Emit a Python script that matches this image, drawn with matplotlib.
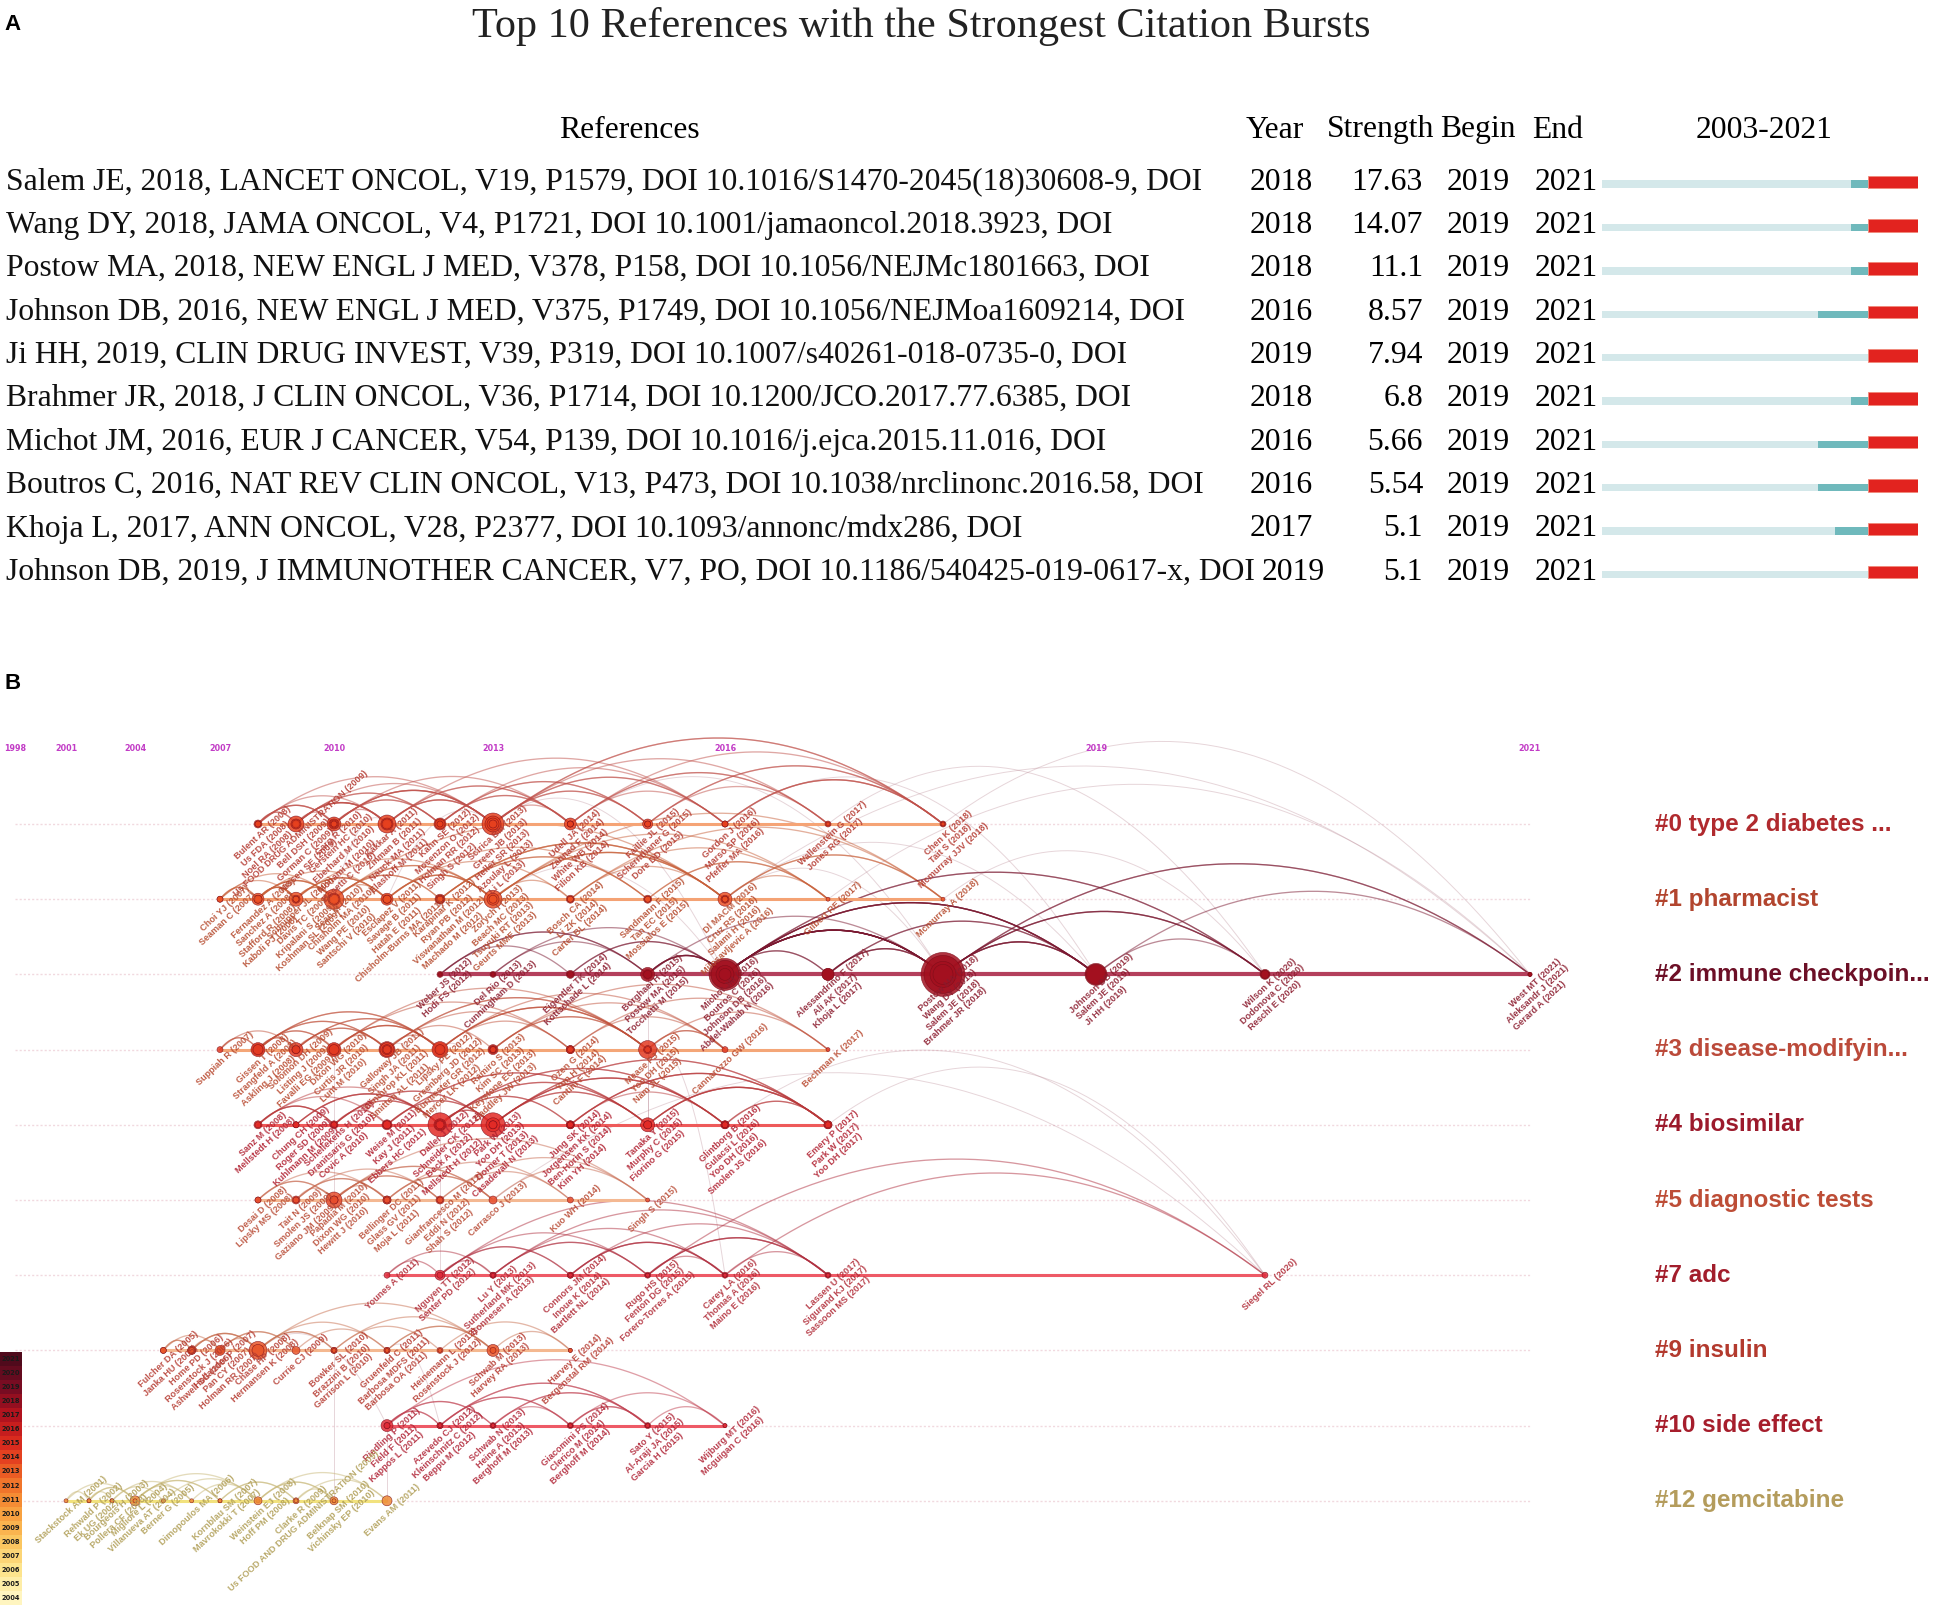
import numpy as np
import matplotlib.pyplot as plt
from matplotlib.colors import LinearSegmentedColormap, Normalize
from matplotlib.transforms import blended_transform_factory

W, H = 1944, 1605

# ================= panel A : citation bursts =================
ref_text = [
    "Salem JE, 2018, LANCET ONCOL, V19, P1579, DOI 10.1016/S1470-2045(18)30608-9, DOI",
    "Wang DY, 2018, JAMA ONCOL, V4, P1721, DOI 10.1001/jamaoncol.2018.3923, DOI",
    "Postow MA, 2018, NEW ENGL J MED, V378, P158, DOI 10.1056/NEJMc1801663, DOI",
    "Johnson DB, 2016, NEW ENGL J MED, V375, P1749, DOI 10.1056/NEJMoa1609214, DOI",
    "Ji HH, 2019, CLIN DRUG INVEST, V39, P319, DOI 10.1007/s40261-018-0735-0, DOI",
    "Brahmer JR, 2018, J CLIN ONCOL, V36, P1714, DOI 10.1200/JCO.2017.77.6385, DOI",
    "Michot JM, 2016, EUR J CANCER, V54, P139, DOI 10.1016/j.ejca.2015.11.016, DOI",
    "Boutros C, 2016, NAT REV CLIN ONCOL, V13, P473, DOI 10.1038/nrclinonc.2016.58, DOI",
    "Khoja L, 2017, ANN ONCOL, V28, P2377, DOI 10.1093/annonc/mdx286, DOI",
    "Johnson DB, 2019, J IMMUNOTHER CANCER, V7, PO, DOI 10.1186/540425-019-0617-x, DOI",
]
ref_year = [2018, 2018, 2018, 2016, 2019, 2018, 2016, 2016, 2017, 2019]
ref_strength = [17.63, 14.07, 11.1, 8.57, 7.94, 6.8, 5.66, 5.54, 5.1, 5.1]
burst_begin = [2019, 2019, 2019, 2019, 2019, 2019, 2019, 2019, 2019, 2019]
burst_end = [2021, 2021, 2021, 2021, 2021, 2021, 2021, 2021, 2021, 2021]
period = (2003, 2021)

# ================= panel B : timeline view =================
year_ticks = [1998, 2001, 2004, 2007, 2010, 2013, 2016, 2019, 2021]
legend_years = list(range(2004, 2022))

lane_name = ["#0 type 2 diabetes ...", "#1 pharmacist", "#2 immune checkpoin...",
             "#3 disease-modifyin...", "#4 biosimilar", "#5 diagnostic tests",
             "#7 adc", "#9 insulin", "#10 side effect", "#12 gemcitabine"]

c0_year = [2008, 2008, 2008, 2009, 2009, 2009, 2010, 2010, 2010, 2011, 2011, 2012, 2012,
           2013, 2013, 2013, 2014, 2014, 2015, 2015, 2016, 2017, 2017, 2018, 2018, 2018,
           2011, 2012, 2014, 2016, 2009, 2010, 2011, 2012, 2013, 2013, 2014, 2015, 2016, 2010]
c0_size = [4, 3, 3, 8, 5, 3, 7, 5, 3, 9, 6, 6, 4, 11, 8, 4, 6, 3, 5, 3, 3, 3, 2, 3, 2, 2,
           4, 5, 3, 3, 4, 4, 5, 3, 6, 4, 3, 3, 3, 3]
c0_author = ["Bulent AR", "Us FDA", "Noel RA", "Us FOOD DRUG ADMINISTRATION", "Bell DSH",
             "Gorman C", "Garg R", "Gerstein HC", "Eberhard M", "Kakkar A", "Zinman B",
             "Kahn SE", "Mosenzon O", "Scirica BM", "Green JB", "Heller SR", "Udell JA",
             "Zannad F", "Faillie JL", "Schernthaner G", "Gordon J", "Wallenstein G",
             "Jones RG", "Chen K", "Tait S", "Mcmurray JJV",
             "Nauck MA", "Holman RR", "White WB", "Marso SP",
             "Nissen SE", "Monami M", "Elashoff M", "Singh S", "Azoulay L", "Li L",
             "Filion KB", "Dore DD", "Pfeffer MA", "Bosetti C"]
c0_links = [(0, 3), (0, 6), (1, 4), (2, 6), (3, 6), (3, 9), (3, 13), (4, 9), (4, 11), (5, 10),
            (6, 9), (6, 13), (7, 13), (8, 11), (9, 13), (9, 16), (10, 14), (11, 16), (12, 18),
            (13, 16), (13, 18), (13, 23), (14, 19), (14, 20), (16, 21), (16, 23), (18, 23),
            (19, 22), (20, 24), (9, 20), (6, 16), (3, 11), (11, 20), (15, 21),
            (26, 13), (27, 16), (28, 20), (29, 23), (3, 26), (6, 27), (0, 9), (1, 13),
            (30, 9), (31, 13), (32, 16), (33, 18), (34, 20), (35, 23), (36, 21), (37, 24),
            (38, 25), (39, 13), (3, 30), (0, 31)]

c1_year = [2007, 2007, 2008, 2008, 2008, 2009, 2009, 2010, 2010, 2010, 2011, 2011, 2012,
           2012, 2013, 2013, 2014, 2014, 2015, 2016, 2016, 2016, 2017, 2018,
           2009, 2012, 2015, 2011, 2008, 2009, 2010, 2011, 2012, 2013, 2014, 2015, 2016, 2013]
c1_size = [3, 3, 6, 4, 3, 7, 4, 10, 6, 4, 5, 6, 5, 4, 9, 5, 4, 3, 4, 7, 4, 3, 2, 2,
           3, 4, 3, 4, 4, 3, 5, 4, 3, 6, 3, 3, 3, 4]
c1_author = ["Choi YJ", "Seaman C", "Fernandez A", "Sanchez A", "Stafford R", "Schnipper JL",
             "Davis TC", "Sean M", "Chisholm MA", "Wang PE", "Esclapez V", "Savage B",
             "Karapinar K", "Ryan PB", "Zorych I", "Beach MC", "Bosch CA", "Li ZK",
             "Sandmann F", "Dl MACM", "Cruz RS", "Salami H", "Gilbert RE", "Mcmurray A",
             "Kripalani S", "Viswanathan M", "Tan EC", "Hatah E",
             "Kaboli PJ", "Koshman SL", "Santschi V", "Chisholm-Burns MA", "Machado M",
             "Tsuyuki RT", "Carter BL", "Mossialos E", "Milosavljevic A", "Geurts MME"]
c1_links = [(0, 2), (0, 5), (1, 3), (2, 5), (2, 7), (3, 7), (4, 8), (5, 7), (5, 10), (5, 14),
            (6, 11), (7, 11), (7, 14), (8, 12), (9, 13), (10, 14), (11, 14), (11, 16), (12, 18),
            (13, 19), (14, 16), (14, 19), (15, 19), (16, 21), (17, 22), (19, 22), (19, 23),
            (7, 19), (2, 11), (14, 23),
            (24, 7), (25, 19), (26, 22), (27, 14), (2, 24), (12, 26), (0, 7),
            (28, 5), (29, 10), (30, 14), (31, 18), (32, 19), (33, 22), (34, 23), (35, 22),
            (36, 23), (37, 19), (2, 29), (7, 30)]

c2_year = [2012, 2012, 2013, 2013, 2014, 2014, 2015, 2015, 2015, 2016, 2016, 2016, 2016,
           2017, 2017, 2017, 2018, 2018, 2018, 2018, 2019, 2019, 2019, 2020, 2020, 2020,
           2021, 2021, 2021]
c2_size = [3, 2, 3, 2, 4, 3, 5, 7, 4, 16, 14, 9, 6, 5, 6, 6, 22, 19, 13, 10, 11, 9, 10,
           5, 4, 4, 2, 2, 2]
c2_author = ["Weber JS", "Hodi FS", "Del Rio", "Cunningham D", "Eigentler TK", "Kottschade L",
             "Borghaei H", "Postow MA", "Tocchetti M", "Michot JM", "Boutros C", "Johnson DB",
             "Abdel-Wahab N", "Alessandrino F", "Ali AK", "Khoja L", "Postow MA", "Wang DY",
             "Salem JE", "Brahmer JR", "Johnson DB", "Salem JE", "Ji HH", "Wilson K",
             "Dodonova C", "Reschl E", "West MT", "Aleksandr J", "Gerard A"]
c2_links = [(0, 4), (0, 7), (1, 6), (2, 7), (3, 9), (4, 9), (5, 10), (6, 9), (6, 11), (7, 9),
            (7, 10), (7, 16), (8, 12), (9, 14), (9, 16), (9, 17), (9, 20), (10, 15), (10, 16),
            (10, 17), (10, 22), (11, 16), (11, 18), (11, 20), (12, 17), (12, 19), (13, 17),
            (14, 20), (15, 21), (16, 20), (16, 22), (16, 23), (17, 21), (17, 24), (18, 22),
            (19, 25), (20, 26), (17, 27), (9, 23), (10, 24), (16, 28), (21, 25), (11, 22),
            (9, 18), (10, 19), (12, 21), (14, 17), (15, 16)]

c3_year = [2007, 2008, 2008, 2009, 2010, 2010, 2011, 2011, 2012, 2012, 2013, 2013, 2014,
           2014, 2015, 2015, 2016, 2017, 2009, 2011, 2013, 2012,
           2008, 2009, 2010, 2011, 2012, 2013, 2014, 2015]
c3_size = [3, 6, 7, 7, 6, 7, 8, 7, 7, 8, 5, 4, 4, 4, 9, 4, 3, 2, 4, 5, 3, 4,
           5, 4, 5, 4, 5, 3, 3, 3]
c3_author = ["Suppiah R", "Gissen T", "Strangfeld A", "Solomon DH", "Dixon WG", "Curtis JR",
             "Galloway JB", "Singh JA", "Lipsky PE", "Greenberg JD", "Ramiro S", "Kim SC",
             "Ozen G", "Yun H", "Mease PJ", "Yoo DH", "Cannarozzo GW", "Bechman K",
             "Listing J", "Winthrop KL", "Keystone EC", "Burmester GR",
             "Askling J", "Favalli EG", "Lunt M", "Smitten AL", "Mercer LK", "Baddley JW",
             "Cantini F", "Nam JL"]
c3_links = [(0, 1), (0, 3), (1, 3), (1, 5), (2, 4), (2, 6), (3, 6), (3, 8), (4, 7), (4, 9),
            (5, 9), (6, 9), (6, 10), (7, 12), (8, 14), (9, 14), (9, 13), (10, 14), (11, 15),
            (12, 16), (14, 16), (14, 17), (5, 14), (2, 9), (1, 8),
            (18, 6), (19, 14), (20, 16), (21, 14), (1, 18), (4, 21),
            (22, 6), (23, 9), (24, 12), (25, 14), (26, 16), (27, 17), (28, 17), (29, 16),
            (0, 22), (3, 24)]

c4_year = [2008, 2008, 2009, 2009, 2010, 2011, 2011, 2012, 2012, 2013, 2013, 2014, 2014,
           2015, 2015, 2016, 2016, 2016, 2017, 2017, 2017, 2010, 2012, 2014, 2013,
           2009, 2010, 2011, 2012, 2013, 2014, 2015, 2016]
c4_size = [4, 3, 3, 3, 4, 5, 4, 12, 6, 12, 7, 4, 4, 7, 4, 4, 4, 3, 4, 4, 3, 3, 5, 3, 4,
           3, 3, 4, 4, 4, 3, 4, 3]
c4_author = ["Sanz M", "Mellstedt H", "Chung CH", "Roger SD", "Schellekens H", "Weise M",
             "Kay J", "Daller J", "Schneider CK", "Park W", "Yoo DH", "Jung SK",
             "Jorgensen KK", "Tanaka Y", "Murphy C", "Glintborg B", "Gulacsi L", "Yoo DH",
             "Emery P", "Park W", "Yoo DH", "Dranitsaris G", "Beck A", "Ben-Horin S",
             "Dorner T", "Kuhlmann M", "Covic A", "Ebbers HC", "Mellstedt H", "Casadevall N",
             "Kim YH", "Fiorino G", "Smolen JS"]
c4_links = [(0, 4), (0, 7), (1, 5), (2, 7), (3, 8), (4, 7), (4, 9), (5, 9), (6, 10), (7, 9),
            (7, 13), (7, 11), (8, 12), (9, 13), (9, 15), (10, 14), (10, 16), (11, 17), (12, 18),
            (13, 18), (13, 19), (14, 20), (15, 19), (9, 18), (7, 15), (5, 13),
            (21, 7), (22, 13), (23, 19), (24, 15), (0, 21), (8, 24),
            (25, 7), (26, 9), (27, 13), (28, 15), (29, 18), (30, 19), (31, 20), (32, 19),
            (1, 26), (4, 27)]

c5_year = [2008, 2009, 2009, 2010, 2010, 2011, 2011, 2012, 2012, 2013, 2014, 2015,
           2008, 2009, 2010, 2011, 2012]
c5_size = [3, 3, 4, 8, 4, 4, 4, 3, 4, 4, 3, 2, 3, 3, 4, 3, 3]
c5_author = ["Desai D", "Tait N", "Smolen JS", "Papadia M", "Dixon WG", "Bellinger DC",
             "Glass GV", "Gianfrancesco M", "Eddi N", "Carrasco J", "Kuo WH", "Singh S",
             "Lipsky MS", "Gaziano JM", "Hewitt J", "Moja L", "Shah S"]
c5_links = [(0, 3), (1, 3), (2, 5), (3, 6), (3, 8), (4, 7), (5, 9), (6, 9), (8, 10), (9, 11),
            (3, 11), (2, 8), (0, 5), (3, 9), (12, 3), (13, 6), (14, 9), (15, 10), (16, 11)]

c7_year = [2011, 2012, 2012, 2013, 2013, 2013, 2014, 2014, 2014, 2015, 2015, 2015, 2016,
           2016, 2016, 2017, 2017, 2017, 2020]
c7_size = [3, 5, 3, 3, 3, 2, 3, 3, 2, 3, 2, 2, 3, 2, 2, 3, 2, 2, 3]
c7_author = ["Younes A", "Nguyen TT", "Senter PD", "Lu Y", "Sutherland MK", "Bonnesen A",
             "Connors JM", "Inoue K", "Bartlett NL", "Rugo HS", "Fenton DG", "Forero-Torres A",
             "Carey LA", "Thomas A", "Maino E", "Lassen U", "Sigurand KJ", "Sassoon MS",
             "Siegel RL"]
c7_links = [(0, 1), (0, 3), (1, 4), (1, 6), (1, 9), (2, 7), (3, 9), (4, 12), (5, 10), (6, 12),
            (6, 15), (7, 13), (8, 14), (9, 15), (9, 12), (10, 16), (11, 17), (12, 15), (1, 15),
            (4, 16), (9, 18), (12, 18)]

c9_year = [2005, 2005, 2006, 2006, 2006, 2007, 2007, 2007, 2008, 2008, 2009, 2010, 2010,
           2010, 2011, 2011, 2011, 2012, 2012, 2013, 2013, 2014, 2014]
c9_size = [3, 3, 4, 4, 3, 4, 3, 5, 9, 6, 4, 3, 3, 2, 3, 3, 2, 3, 2, 6, 3, 2, 2]
c9_author = ["Fulcher DA", "Janka HU", "Home PD", "Rosenstock J", "Ashwell SG", "Hollander P",
             "Pan CY", "Holman RR", "Chase HP", "Hermansen K", "Currie CJ", "Bowker SL",
             "Brazzini B", "Garrison L", "Gruenfeld C", "Barbosa MDFS", "Barbosa OA",
             "Heinemann L", "Rosenstock J", "Schwab M", "Harvey RA", "Harvey E",
             "Bergenstal RM"]
c9_links = [(0, 2), (0, 5), (1, 3), (2, 7), (2, 8), (3, 8), (4, 9), (5, 8), (5, 10), (7, 10),
            (8, 11), (8, 12), (9, 14), (10, 15), (11, 17), (12, 19), (14, 19), (15, 20),
            (17, 21), (19, 22), (8, 19)]

c10_year = [2011, 2011, 2011, 2012, 2012, 2012, 2013, 2013, 2013, 2014, 2014, 2014, 2015,
            2015, 2015, 2016, 2016]
c10_size = [6, 3, 3, 3, 3, 2, 3, 2, 2, 3, 2, 2, 3, 2, 2, 2, 2]
c10_author = ["Riedling P", "Field F", "Kappos L", "Azevedo CJ", "Kleinschnitz C", "Beppu M",
              "Schwab N", "Heine A", "Berghoff M", "Giacomini PS", "Clerico M", "Berghoff M",
              "Sato Y", "Al-Araji JA", "Garcia H", "Wijburg MT", "Mcguigan C"]
c10_links = [(0, 3), (0, 6), (1, 4), (2, 6), (3, 9), (4, 9), (5, 12), (6, 9), (6, 12), (7, 13),
             (9, 12), (9, 15), (10, 14), (12, 15), (0, 15), (3, 12)]

c12_year = [2001, 2002, 2002, 2003, 2003, 2004, 2004, 2005, 2006, 2007, 2007, 2008, 2008,
            2009, 2009, 2010, 2010, 2011]
c12_size = [2, 2, 2, 2, 2, 5, 2, 2, 2, 2, 2, 2, 4, 3, 2, 4, 2, 5]
c12_author = ["Stackstock AM", "Rehwald P", "Ek UG", "Bourgeois H", "Pollera CF", "Migliore L",
              "Villanueva AT", "Berner G", "Dimopoulos MA", "Kornblau SM", "Mavrokokki T",
              "Weinstein EJ", "Hoff PM", "Clarke R", "Us FOOD AND DRUG ADMINISTRATION",
              "Belknap SM", "Vichinsky EP", "Evans AM"]
c12_links = [(0, 2), (0, 5), (1, 3), (1, 5), (2, 6), (3, 7), (4, 8), (5, 8), (5, 9), (6, 10),
             (7, 11), (8, 12), (9, 13), (10, 14), (11, 15), (12, 15), (12, 17), (13, 17),
             (5, 12), (14, 16)]

# links between clusters: ((lane, node), (lane, node))
cross_links = [((1, 7), (0, 9)), ((1, 11), (0, 13)), ((0, 13), (2, 9)), ((0, 16), (2, 16)),
               ((1, 14), (2, 10)), ((1, 19), (2, 17)), ((1, 21), (2, 26)), ((1, 22), (2, 27)),
               ((0, 21), (2, 23)), ((0, 23), (2, 28)), ((1, 23), (2, 24)), ((3, 6), (4, 7)),
               ((3, 9), (4, 9)), ((4, 13), (3, 14)), ((5, 3), (3, 5)), ((4, 18), (6, 18)),
               ((5, 9), (6, 18)), ((4, 15), (6, 18)), ((3, 14), (6, 12)), ((7, 8), (8, 0)),
               ((7, 12), (9, 15)), ((8, 0), (9, 17)), ((7, 15), (8, 3)), ((2, 7), (4, 13)),
               ((6, 1), (3, 9)), ((0, 20), (2, 20)), ((1, 19), (2, 22))]

lanes = [
    (c0_year, c0_size, c0_author, c0_links),
    (c1_year, c1_size, c1_author, c1_links),
    (c2_year, c2_size, c2_author, c2_links),
    (c3_year, c3_size, c3_author, c3_links),
    (c4_year, c4_size, c4_author, c4_links),
    (c5_year, c5_size, c5_author, c5_links),
    (c7_year, c7_size, c7_author, c7_links),
    (c9_year, c9_size, c9_author, c9_links),
    (c10_year, c10_size, c10_author, c10_links),
    (c12_year, c12_size, c12_author, c12_links),
]

# styles per lane
name_color = ['#b02a2e', '#b2452e', '#6c0f26', '#bb4a3a', '#9c1a2c', '#bd4d36',
              '#a21e2c', '#b33a2e', '#a61e2c', '#b49c5c']
line_color = ['#f5a476', '#f4a274', '#b4405c', '#f4a678', '#ee5a5a', '#f4b892',
              '#ee5a66', '#f4b890', '#ee5a66', '#f2e27e']
node_color = ['#e6401e', '#eb5024', '#a3101f', '#e23a22', '#e22a26', '#e64c2c',
              '#df2a3a', '#e8562a', '#df2a36', '#ee8a36']
label_color = ['#b3372e', '#b5492c', '#8a1a2c', '#b8482e', '#b02030', '#b84a34',
               '#b02a36', '#b53a30', '#b02436', '#b09e56']
arc_color = ['#c0504a', '#c8603a', '#7a1830', '#c0503a', '#b8383a', '#c86a50',
             '#b03040', '#c87050', '#c04050', '#c8b878']

plt.rcParams['font.family'] = ['Liberation Serif', 'DejaVu Serif']
fig = plt.figure(figsize=(W / 100, H / 100), dpi=100)


def fx(px):
    return px / W


def fy(py):
    return 1 - py / H


# ---------------- panel A ----------------
fs_a = 22.8
fig.text(fx(4), fy(25), "A", fontsize=16, fontweight='bold', family='Liberation Sans', va='center')
fig.text(fx(921), fy(27), "Top 10 References with the Strongest Citation Bursts",
         fontsize=30.4, ha='center', va='center', color='#222222')

hdr_y = fy(130)
fig.text(fx(629), hdr_y, "References", fontsize=fs_a, ha='center', va='center')
fig.text(fx(1275), hdr_y, "Year", fontsize=fs_a, ha='center', va='center')
fig.text(fx(1381), hdr_y, "Strength", fontsize=fs_a, ha='center', va='center')
fig.text(fx(1478), hdr_y, "Begin", fontsize=fs_a, ha='center', va='center')
fig.text(fx(1558), hdr_y, "End", fontsize=fs_a, ha='center', va='center')
fig.text(fx(1764), hdr_y, f"{period[0]}-{period[1]}", fontsize=fs_a, ha='center', va='center')

renderer = fig.canvas.get_renderer()
row_y0, row_dy = 182, 43.35
for i in range(len(ref_text)):
    y = fy(row_y0 + row_dy * i)
    t = fig.text(fx(6), y, ref_text[i], fontsize=fs_a, va='center', color='#111111')
    right_edge = t.get_window_extent(renderer).x1
    yt = fig.text(fx(1281), y, str(ref_year[i]), fontsize=fs_a, ha='center', va='center')
    yext = yt.get_window_extent(renderer)
    if yext.x0 < right_edge + 6:
        # the long reference runs into the year column: year follows the text
        yt.set_ha('left')
        yt.set_x(fx(right_edge + 7))
    fig.text(fx(1423), y, f"{ref_strength[i]:g}", fontsize=fs_a, ha='right', va='center')
    fig.text(fx(1478), y, str(burst_begin[i]), fontsize=fs_a, ha='center', va='center')
    fig.text(fx(1566), y, str(burst_end[i]), fontsize=fs_a, ha='center', va='center')

top_px = row_y0 - 0.5 * row_dy
bot_px = row_y0 + 9.5 * row_dy
axA = fig.add_axes([fx(1602), fy(bot_px), fx(1918) - fx(1602), (bot_px - top_px) / H])
axA.set_xlim(period[0], period[1] + 1)
axA.set_ylim(9.5, -0.5)
axA.axis('off')
rows = np.arange(len(ref_text))
by = np.array(burst_begin)
ey = np.array(burst_end)
ry = np.array(ref_year)
axA.barh(rows + 0.05, period[1] + 1 - period[0], left=period[0], height=0.17, color='#d4e8ea')
axA.barh(rows + 0.05, by - ry, left=ry, height=0.17, color='#6fb9bc')
axA.barh(rows, ey + 1 - by, left=by, height=0.29, color='#e2231f', edgecolor='#f08a7a', linewidth=0.6)

# ---------------- panel B ----------------
fig.text(fx(4), fy(683), "B", fontsize=16, fontweight='bold', family='Liberation Sans', va='center')

scale_years = [1990, 1998, 2001, 2004, 2007, 2010, 2013, 2016, 2017, 2018, 2019, 2020, 2021, 2025]
scale_px = [-121, 15, 66, 135, 220, 334, 493, 725, 828, 943, 1096, 1265, 1530, 2410]


def year_to_px(v):
    return np.interp(v, scale_years, scale_px)


def px_to_year(p):
    return np.interp(p, scale_px, scale_years)


b_top = 700
lane_y0, lane_dy = 824, 75.2
axB = fig.add_axes([0, 0, 1, (H - b_top) / H])
axB.set_xscale('function', functions=(year_to_px, px_to_year))
axB.set_xlim(px_to_year(0), px_to_year(W))
axB.set_ylim((H - lane_y0) / lane_dy, (b_top - lane_y0) / lane_dy)
axB.axis('off')

tick_row = (748 - lane_y0) / lane_dy
for yr in year_ticks:
    axB.text(yr, tick_row, str(yr), color='#c23cc6', fontsize=5.8, fontweight='bold',
             ha='center', va='center', family='DejaVu Sans')


def draw_arc(y_a, r_a, y_b, r_b, color, alpha, lw):
    # quadratic curve in pixel space, bent upward, mapped back to data
    x0, x1 = year_to_px(y_a), year_to_px(y_b)
    p0, p1 = lane_y0 + lane_dy * r_a, lane_y0 + lane_dy * r_b
    cx = (x0 + x1) / 2
    cy = min(p0, p1) - 0.36 * abs(x1 - x0) - 10
    t = np.linspace(0, 1, 50)
    px = (1 - t) ** 2 * x0 + 2 * (1 - t) * t * cx + t ** 2 * x1
    py = (1 - t) ** 2 * p0 + 2 * (1 - t) * t * cy + t ** 2 * p1
    axB.plot(px_to_year(px), (py - lane_y0) / lane_dy, color=color, alpha=alpha, lw=lw, zorder=2)


# cross-lane links first (faint)
for (la, na), (lb, nb) in cross_links:
    draw_arc(lanes[la][0][na], la, lanes[lb][0][nb], lb, '#b98894', 0.35, 0.7)

name_tf = blended_transform_factory(axB.transAxes, axB.transData)
for r, (yrs, sizes, authors, links) in enumerate(lanes):
    axB.plot([year_ticks[0], year_ticks[-1]], [r, r], color='#f1d9df', lw=1.0,
             ls=(0, (1.5, 1.5)), zorder=1)
    for a, b in links:
        draw_arc(yrs[a], r, yrs[b], r, arc_color[r], 0.5, 0.95)
    axB.plot([min(yrs), max(yrs)], [r, r], color=line_color[r], lw=3.0 if r == 2 else 2.2,
             zorder=3, solid_capstyle='butt')
    sz = (1.44 * np.array(sizes, dtype=float)) ** 2
    axB.scatter(yrs, [r] * len(yrs), s=sz, c=node_color[r], edgecolors='#7a0c18',
                linewidths=0.4, alpha=0.85, zorder=4)
    seen = {}
    for yr, au in zip(yrs, authors):
        k = seen.get(yr, 0)
        seen[yr] = k + 1
        dx = (5 + 2.5 * k) * 0.72
        dy = -(9 + 11 * k) * 0.72
        axB.annotate(f"{au} ({yr})", (yr, r), xytext=(dx, dy), textcoords='offset points',
                     rotation=43, rotation_mode='anchor', ha='center', va='center',
                     fontsize=6.6, fontweight='bold', color=label_color[r], alpha=0.88,
                     family='Liberation Sans', annotation_clip=False, zorder=5)
    axB.text(fx(1655), r, lane_name[r], transform=name_tf,
             fontsize=17.5, fontweight='bold', color=name_color[r], family='Liberation Sans',
             ha='left', va='center')

# year colour legend (bottom left)
cmap = LinearSegmentedColormap.from_list(
    'cite', ['#fff5c0', '#fde38a', '#fbc25a', '#f79a3a', '#ef6a26', '#e0301e',
             '#b8141e', '#7a0c22', '#500a1c'])
norm = Normalize(min(legend_years), max(legend_years))
axL = fig.add_axes([0, 0, fx(22), 253 / H])
axL.barh(legend_years, 1, left=0, height=1.0, color=cmap(norm(np.array(legend_years))))
axL.set_xlim(0, 1)
axL.set_ylim(min(legend_years) - 0.5, max(legend_years) + 0.5)
axL.axis('off')
for yr in legend_years:
    axL.text(0.5, yr, str(yr), fontsize=4.8, fontweight='bold', color='#1a1a1a',
             ha='center', va='center', family='DejaVu Sans')

fig.savefig('out.png', dpi=100)
